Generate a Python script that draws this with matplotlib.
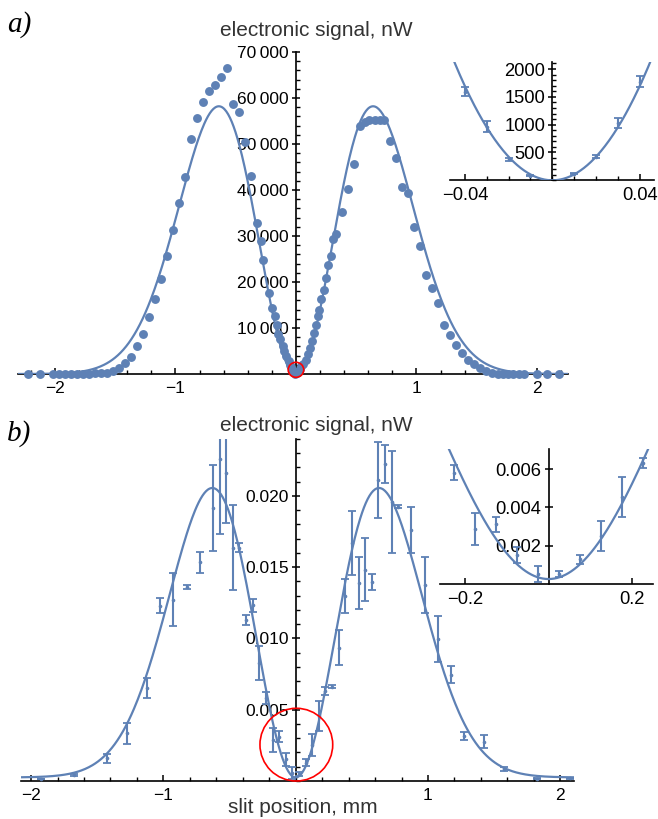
import numpy as np
import matplotlib
matplotlib.use("Agg")
import matplotlib.pyplot as plt
from matplotlib.patches import Ellipse
from matplotlib.ticker import FixedLocator, MultipleLocator

# ---- panel a: intensity scan (dots) ----
xa = [-2.22, -2.12, -2.02, -1.97, -1.92, -1.87, -1.82, -1.77, -1.72, -1.67, -1.62,
      -1.57, -1.52, -1.47, -1.42, -1.37, -1.32, -1.27, -1.22, -1.17, -1.12, -1.07,
      -1.02, -0.97, -0.92, -0.87, -0.82, -0.77, -0.72, -0.67, -0.62, -0.57, -0.52,
      -0.47, -0.42, -0.37, -0.32, -0.29, -0.27, -0.22, -0.20, -0.17, -0.16, -0.15,
      -0.13, -0.11, -0.10, -0.08, -0.06, -0.05, -0.04, -0.03, -0.02, -0.01,
      0.01, 0.02, 0.03, 0.04, 0.06, 0.08, 0.10, 0.12, 0.13, 0.15, 0.17, 0.18,
      0.19, 0.21, 0.23, 0.25, 0.27, 0.29, 0.31, 0.33, 0.38, 0.43, 0.48, 0.53,
      0.57, 0.61, 0.66, 0.70, 0.73, 0.78, 0.83, 0.88, 0.93, 0.98, 1.03, 1.08,
      1.13, 1.18, 1.23, 1.28, 1.33, 1.38, 1.43, 1.48, 1.53, 1.58, 1.63, 1.68,
      1.72, 1.76, 1.80, 1.85, 1.89, 2.00, 2.08, 2.18]
ya = [0, 0, 0, 0, 10, 20, 30, 50, 80, 120, 180,
      290, 650, 1230, 2320, 3770, 6090, 8700, 12390, 16380, 20650, 25650,
      31300, 37100, 42750, 51020, 55580, 59060, 61590, 62750, 64640, 66450, 58770,
      57030, 50500, 43040, 32870, 28870, 24890, 17500, 14240, 12570, 10760, 8590,
      7500, 6040, 4960, 3870, 2780, 1850, 1593, 964, 377, 84,
      120, 425, 1024, 1773, 2070, 3150, 4240, 5700, 7130, 8960, 10760, 12570,
      14020, 16200, 18220, 20910, 23800, 25610, 29240, 30330, 35180, 40260, 45760, 54020,
      54830, 55110, 55180, 55180, 55180, 50610, 46850, 40610, 39390, 32000, 27780, 21480,
      18650, 15330, 10610, 8435, 6410, 4610, 3150, 2070, 1200, 610, 260, 40,
      0, 0, 0, 0, 0, 0, 0, 0]
fit_a_amp = 58200
fit_a_x0 = 0.64

# inset a: centre points with error bars
xa_in = [-0.04, -0.03, -0.02, -0.01, 0.01, 0.02, 0.03, 0.04]
ya_in = [1593, 964, 377, 84, 120, 425, 1024, 1773]
ea_in = [85, 100, 25, 15, 15, 25, 90, 100]
fit_a_in_coef = 1.06e6

# ---- panel b: electronic signal with error bars ----
xb = [-1.925, -1.675, -1.425, -1.275, -1.125, -1.025, -0.925, -0.825, -0.725,
      -0.625, -0.575, -0.525, -0.475, -0.425, -0.375, -0.325, -0.275, -0.225,
      -0.175, -0.125, -0.075, -0.025, 0.025, 0.075, 0.125, 0.175, 0.225, 0.275,
      0.325, 0.375, 0.425, 0.475, 0.525, 0.575, 0.625, 0.675, 0.725, 0.775,
      0.875, 0.975, 1.075, 1.175, 1.275, 1.425, 1.575, 1.825, 2.075]
yb = [0.00014, 0.00042, 0.00159, 0.00334, 0.0065, 0.01229, 0.01271, 0.0136, 0.01534,
      0.01914, 0.02256, 0.02162, 0.01637, 0.01637, 0.01126, 0.01231, 0.0083, 0.00583,
      0.00286, 0.00312, 0.00151, 0.00053, 0.0005, 0.00128, 0.00252, 0.00457, 0.00632, 0.00661,
      0.00936, 0.01297, 0.0167, 0.01387, 0.01483, 0.01398, 0.02109, 0.02222, 0.01958, 0.01924,
      0.0176, 0.01374, 0.00997, 0.00745, 0.00314, 0.00276, 0.00083, 0.00016, 0.00018]
eb = [0.00003, 0.0001, 0.00033, 0.00076, 0.0007, 0.00053, 0.00185, 0.00015, 0.00074,
      0.00301, 0.00524, 0.00355, 0.00298, 0.0003, 0.00035, 0.00046, 0.0012, 0.00041,
      0.00085, 0.00038, 0.00044, 0.00042, 0.00015, 0.00024, 0.00079, 0.00105, 0.00026, 0.0001,
      0.00123, 0.00117, 0.00225, 0.00181, 0.00219, 0.00055, 0.00266, 0.00134, 0.00356, 0.00012,
      0.00163, 0.00198, 0.0016, 0.0006, 0.00027, 0.00047, 0.00012, 0.00005, 0.00003]
fit_b_amp = 0.0203
fit_b_x0 = 0.63
fit_b_offset = 0.00025

ya_ticks = [10000, 20000, 30000, 40000, 50000, 60000, 70000]
ya_labels = ["10\u2009000", "20\u2009000", "30\u2009000", "40\u2009000",
             "50\u2009000", "60\u2009000", "70\u2009000"]
yb_ticks = [0.005, 0.010, 0.015, 0.020]
yb_labels = ["0.005", "0.010", "0.015", "0.020"]
x_ticks = [-2, -1, 1, 2]
x_labels = ["\u22122", "\u22121", "1", "2"]

blue = "#5E81B5"
plt.rcParams["font.family"] = ["Liberation Sans", "DejaVu Sans"]

W, H = 658, 819
fig = plt.figure(figsize=(W / 100, H / 100), dpi=100)


def px_axes(l, r, t, b):
    return fig.add_axes([l / W, 1 - b / H, (r - l) / W, (b - t) / H])


def cross_axes(ax, fs):
    for s in ["top", "right"]:
        ax.spines[s].set_visible(False)
    for s in ["left", "bottom"]:
        ax.spines[s].set_position(("data", 0))
        ax.spines[s].set_linewidth(1.2)
    ax.patch.set_alpha(0)
    ax.tick_params(axis="x", which="major", direction="in", length=4.5, width=1.1,
                   labelsize=fs, pad=5)
    ax.tick_params(axis="x", which="minor", direction="in", length=2.8, width=1.0)
    ax.tick_params(axis="y", which="major", direction="inout", length=6, width=1.1,
                   labelsize=fs, pad=2)
    ax.tick_params(axis="y", which="minor", direction="in", length=2.8, width=1.0)


def model(x, amp, x0, off=0.0):
    u = (x / x0) ** 2
    return amp * u * np.exp(1 - u) + off


ebar = dict(fmt="o", ms=1.6, color=blue, ecolor=blue, elinewidth=1.5,
            capsize=2.6, capthick=1.3, zorder=4)

# ---- panel a ----
ax1 = px_axes(17.6, 568.3, 52, 374)
cross_axes(ax1, 12.5)
ax1.set_xlim(-2.31, 2.26)
ax1.set_ylim(0, 70000)
xs = np.linspace(-2.31, 2.26, 600)
ax1.plot(xs, model(xs, fit_a_amp, fit_a_x0), color=blue, lw=1.6, zorder=3)
ax1.plot(xa, ya, "o", color=blue, ms=6.4, mec="none", clip_on=False, zorder=4)
ax1.xaxis.set_major_locator(FixedLocator(x_ticks))
ax1.set_xticklabels(x_labels)
ax1.xaxis.set_minor_locator(MultipleLocator(0.2))
ax1.yaxis.set_major_locator(FixedLocator(ya_ticks))
ax1.set_yticklabels(ya_labels)
ax1.yaxis.set_minor_locator(MultipleLocator(2000))
ax1.add_patch(Ellipse((0, 913), 0.129, 3260, fill=False, ec="red", lw=1.2,
                      clip_on=False, zorder=6))

# inset a
axa = px_axes(450.4, 654.2, 61.8, 180.3)
cross_axes(axa, 13.2)
axa.set_xlim(-0.0466, 0.0466)
axa.set_ylim(0, 2130)
xs = np.linspace(-0.0466, 0.0466, 300)
axa.plot(xs, fit_a_in_coef * xs ** 2, color=blue, lw=1.6, zorder=3)
axa.errorbar(xa_in, ya_in, yerr=ea_in, **ebar)
axa.xaxis.set_major_locator(FixedLocator([-0.04, 0.04]))
axa.set_xticklabels(["\u22120.04", "0.04"])
axa.xaxis.set_minor_locator(MultipleLocator(0.01))
axa.yaxis.set_major_locator(FixedLocator([500, 1000, 1500, 2000]))
axa.yaxis.set_minor_locator(MultipleLocator(100))

# ---- panel b ----
ax2 = px_axes(20.5, 573.5, 438.8, 781)
cross_axes(ax2, 12.5)
ax2.set_xlim(-2.08, 2.10)
ax2.set_ylim(0, 0.024)
xs = np.linspace(-2.08, 2.10, 600)
ax2.plot(xs, model(xs, fit_b_amp, fit_b_x0, fit_b_offset), color=blue, lw=1.6, zorder=3)
ax2.errorbar(xb, yb, yerr=eb, **ebar)
ax2.xaxis.set_major_locator(FixedLocator(x_ticks))
ax2.set_xticklabels(x_labels)
ax2.xaxis.set_minor_locator(MultipleLocator(0.2))
ax2.yaxis.set_major_locator(FixedLocator(yb_ticks))
ax2.set_yticklabels(yb_labels)
ax2.yaxis.set_minor_locator(MultipleLocator(0.001))
ax2.add_patch(Ellipse((0.005, 0.00255), 0.55, 0.0051, fill=False, ec="red", lw=1.2,
                      clip_on=False, zorder=6))

# inset b
axb = px_axes(440, 653.3, 449.3, 583.8)
cross_axes(axb, 13.2)
axb.set_xlim(-0.259, 0.25)
axb.set_ylim(0, 0.00705)
xs = np.linspace(-0.259, 0.25, 300)
axb.plot(xs, model(xs, fit_b_amp, fit_b_x0, fit_b_offset), color=blue, lw=1.6, zorder=3)
axb.errorbar(xb, yb, yerr=eb, **ebar)
axb.xaxis.set_major_locator(FixedLocator([-0.2, 0.2]))
axb.set_xticklabels(["\u22120.2", "0.2"])
axb.yaxis.set_major_locator(FixedLocator([0.002, 0.004, 0.006]))
axb.set_yticklabels(["0.002", "0.004", "0.006"])

# ---- texts ----
def px_text(x, y, s, **kw):
    fig.text(x / W, 1 - y / H, s, **kw)


px_text(316.5, 36, "electronic signal, nW", fontsize=15, ha="center", va="baseline",
        color="#333333")
px_text(316.5, 431, "electronic signal, nW", fontsize=15, ha="center", va="baseline",
        color="#333333")
px_text(302.5, 813, "slit position, mm", fontsize=15, ha="center", va="baseline",
        color="#333333")
px_text(7, 32, "a)", fontsize=21, style="italic", family="Liberation Serif",
        ha="left", va="baseline")
px_text(7, 441, "b)", fontsize=21, style="italic", family="Liberation Serif",
        ha="left", va="baseline")

fig.savefig("out.png", dpi=100)
